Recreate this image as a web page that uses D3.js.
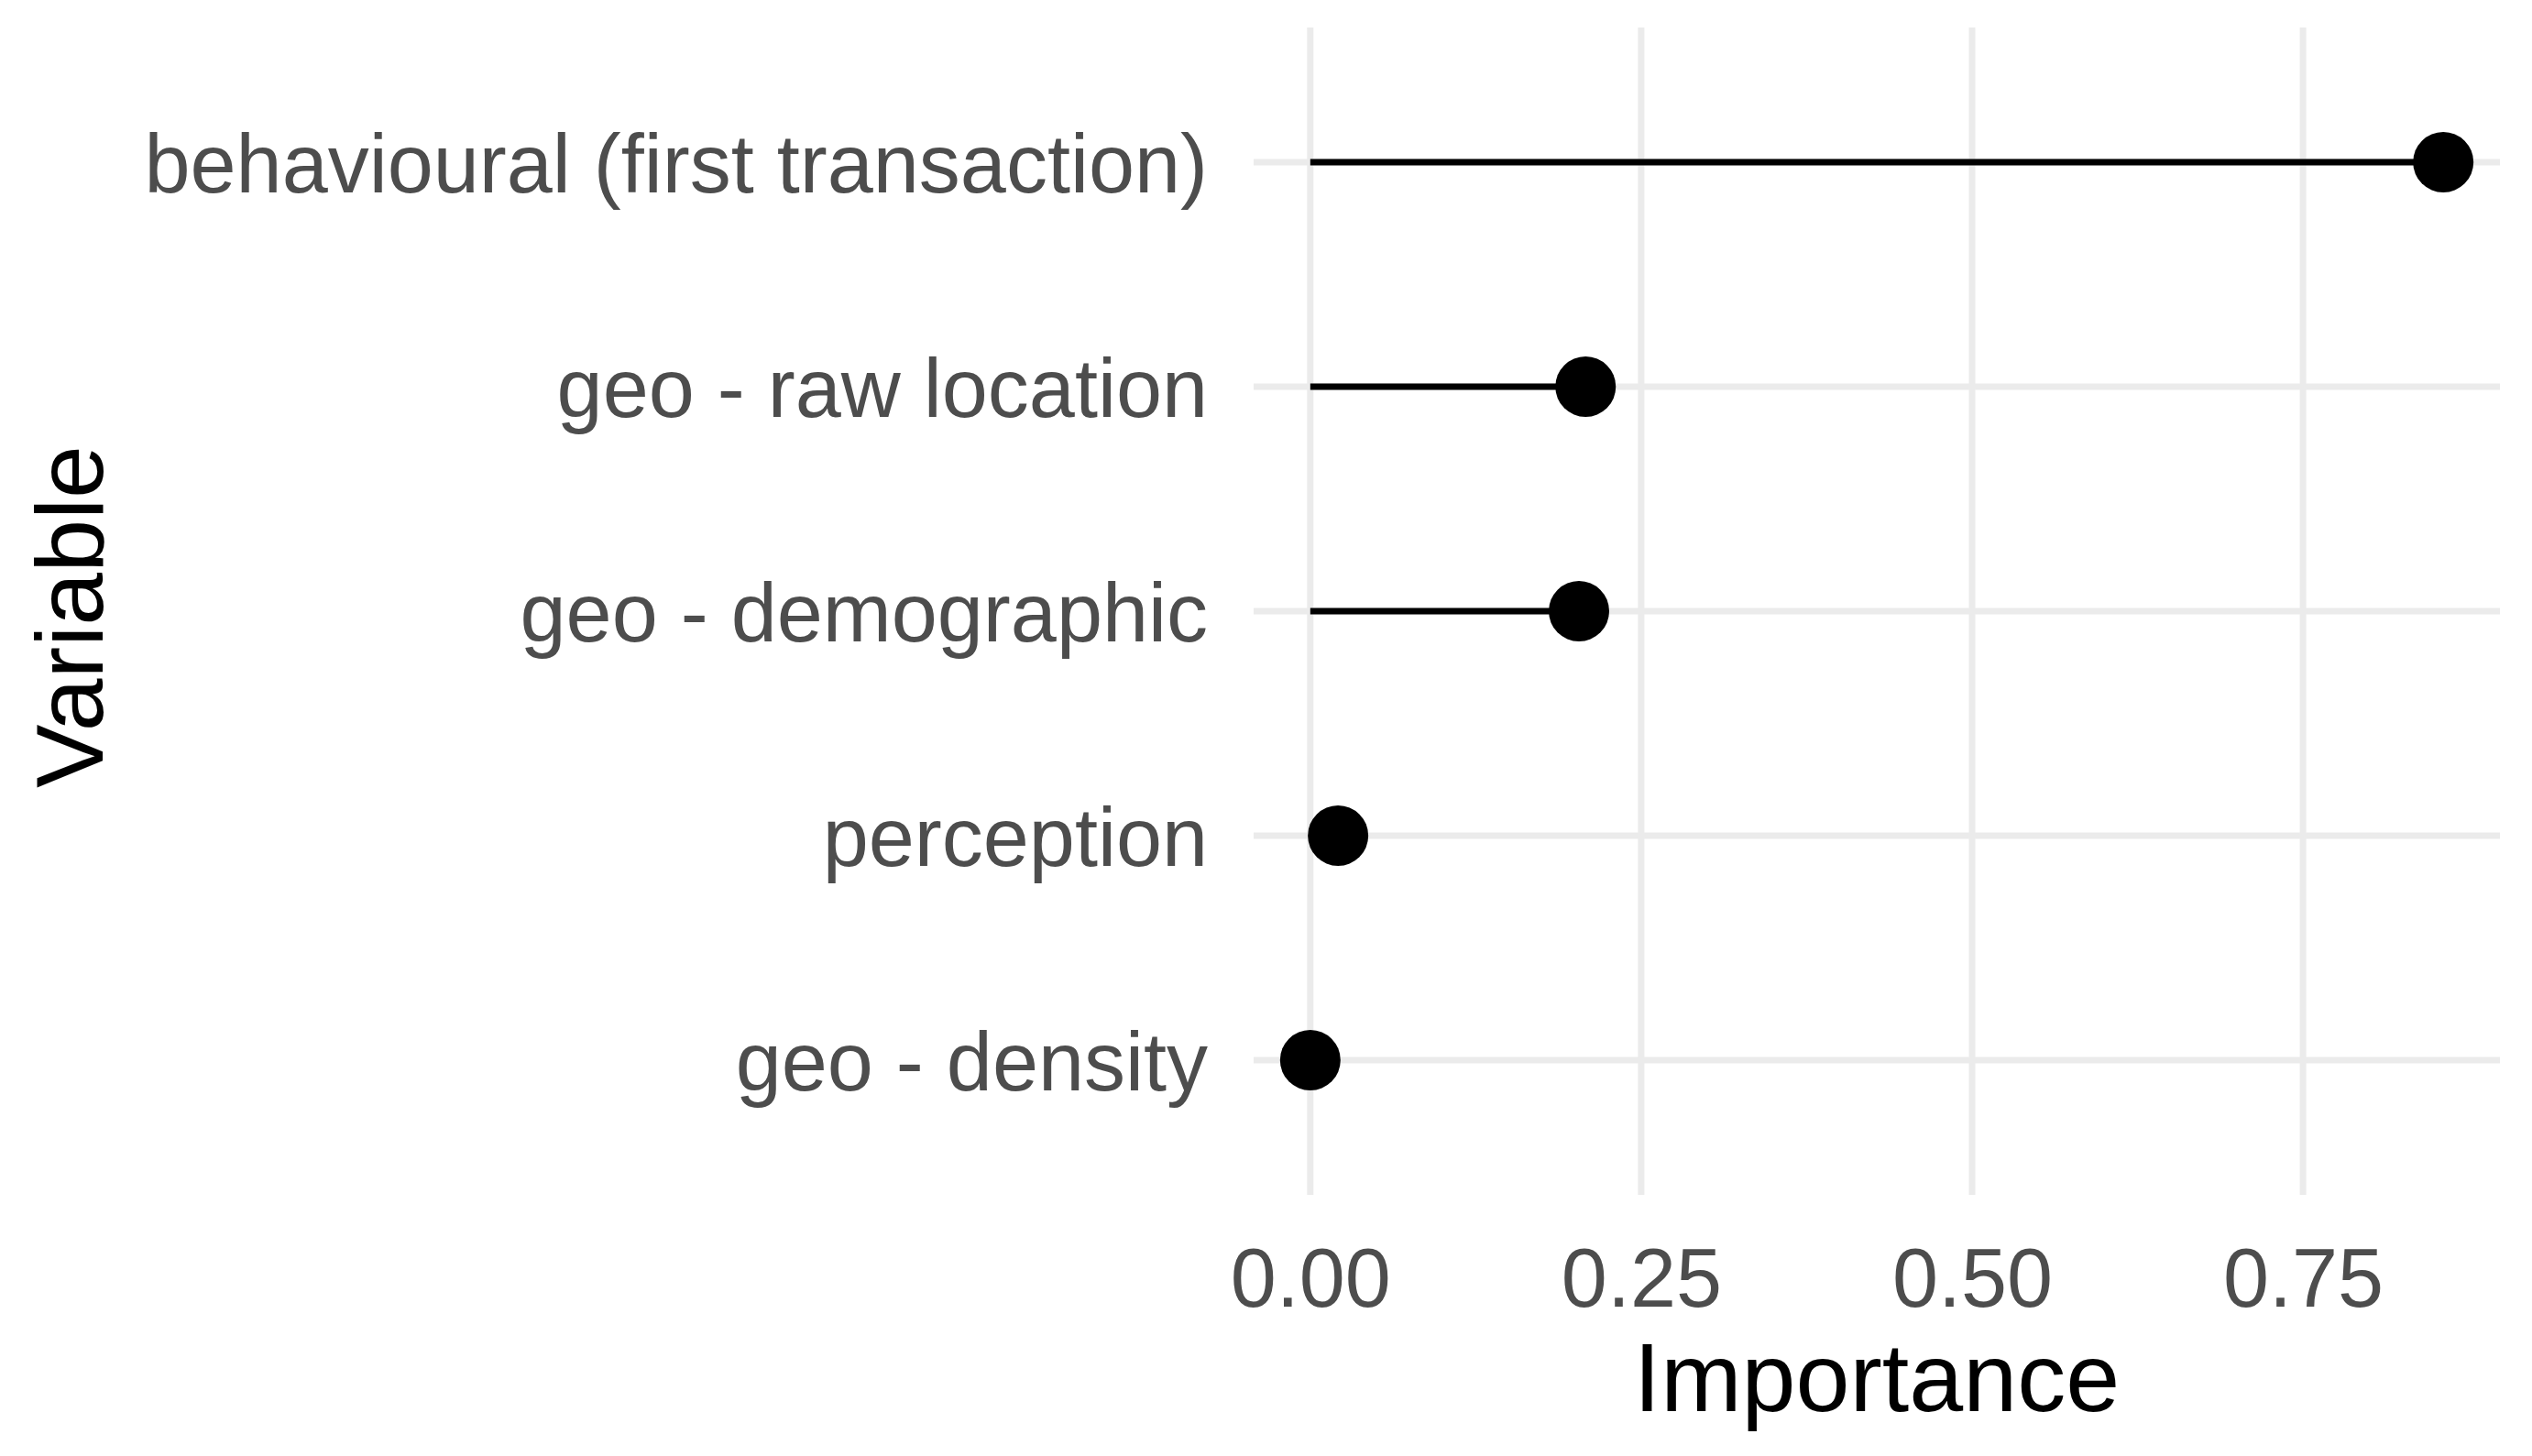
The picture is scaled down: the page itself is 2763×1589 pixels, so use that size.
<!DOCTYPE html>
<html>
<head>
<meta charset="utf-8">
<script src="https://cdn.jsdelivr.net/npm/d3@7"></script>
<style>
  html, body { margin: 0; padding: 0; background: #ffffff; }
  svg { display: block; }
</style>
</head>
<body>
<div id="chart"></div>
<script>
// ---- data ----
const categories = [
  "behavioural (first transaction)",
  "geo - raw location",
  "geo - demographic",
  "perception",
  "geo - density"
];
const importance = [0.856, 0.208, 0.203, 0.021, 0.0];
const xTicks = [0, 0.25, 0.5, 0.75];
const xTickLabels = ["0.00", "0.25", "0.50", "0.75"];
const xTitle = "Importance";
const yTitle = "Variable";

// ---- layout ----
const W = 2763, H = 1589;
const panel = { left: 1368, right: 2728, top: 30, bottom: 1304 };

const svg = d3.select("#chart").append("svg")
  .attr("width", W).attr("height", H)
  .style("font-family", "'Liberation Sans', Arial, sans-serif");

const dMin = Math.min(0, d3.min(importance));
const dMax = d3.max(importance);
const pad = (dMax - dMin) * 0.05;
const x = d3.scaleLinear().domain([dMin - pad, dMax + pad]).range([panel.left, panel.right]);

const y = d3.scalePoint().domain(categories).range([panel.top, panel.bottom]).padding(0.6);

// gridlines
const grid = svg.append("g");
grid.selectAll("line.vx").data(xTicks).enter().append("line")
  .attr("x1", d => x(d)).attr("x2", d => x(d))
  .attr("y1", panel.top).attr("y2", panel.bottom)
  .attr("stroke", "#ebebeb").attr("stroke-width", 7);
grid.selectAll("line.hy").data(categories).enter().append("line")
  .attr("x1", panel.left).attr("x2", panel.right)
  .attr("y1", d => y(d)).attr("y2", d => y(d))
  .attr("stroke", "#ebebeb").attr("stroke-width", 7);

// segments
const data = categories.map((c, i) => ({ c, v: importance[i] }));
svg.append("g").selectAll("line").data(data).enter().append("line")
  .attr("x1", x(0)).attr("x2", d => x(d.v))
  .attr("y1", d => y(d.c)).attr("y2", d => y(d.c))
  .attr("stroke", "#000").attr("stroke-width", 7);

// points
svg.append("g").selectAll("circle").data(data).enter().append("circle")
  .attr("cx", d => x(d.v)).attr("cy", d => y(d.c)).attr("r", 33)
  .attr("fill", "#000");

// y axis labels
const yAxis = d3.axisLeft(y).tickSize(0).tickPadding(50);
const gy = svg.append("g").attr("transform", `translate(${panel.left},0)`).call(yAxis);
gy.select(".domain").remove();
gy.selectAll("text")
  .attr("font-size", 90)
  .attr("fill", "#4d4d4d")
  .attr("font-family", "'Liberation Sans', Arial, sans-serif")
  .attr("dy", "0.36em");

// x axis labels
const xAxis = d3.axisBottom(x).tickValues(xTicks).tickFormat((d, i) => xTickLabels[i]).tickSize(0).tickPadding(0);
const gx = svg.append("g").attr("transform", `translate(0,${panel.bottom})`).call(xAxis);
gx.select(".domain").remove();
gx.selectAll("text")
  .attr("font-size", 90)
  .attr("fill", "#4d4d4d")
  .attr("font-family", "'Liberation Sans', Arial, sans-serif")
  .attr("y", 0)
  .attr("dy", 0)
  .attr("transform", "translate(0,122)");

// axis titles
svg.append("text")
  .attr("x", (panel.left + panel.right) / 2)
  .attr("y", 1540)
  .attr("text-anchor", "middle")
  .attr("font-size", 106)
  .attr("fill", "#000")
  .text(xTitle);

svg.append("text")
  .attr("transform", `translate(112,${(panel.top + panel.bottom) / 2 + 6}) rotate(-90)`)
  .attr("text-anchor", "middle")
  .attr("font-size", 104)
  .attr("fill", "#000")
  .text(yTitle);
</script>
</body>
</html>
